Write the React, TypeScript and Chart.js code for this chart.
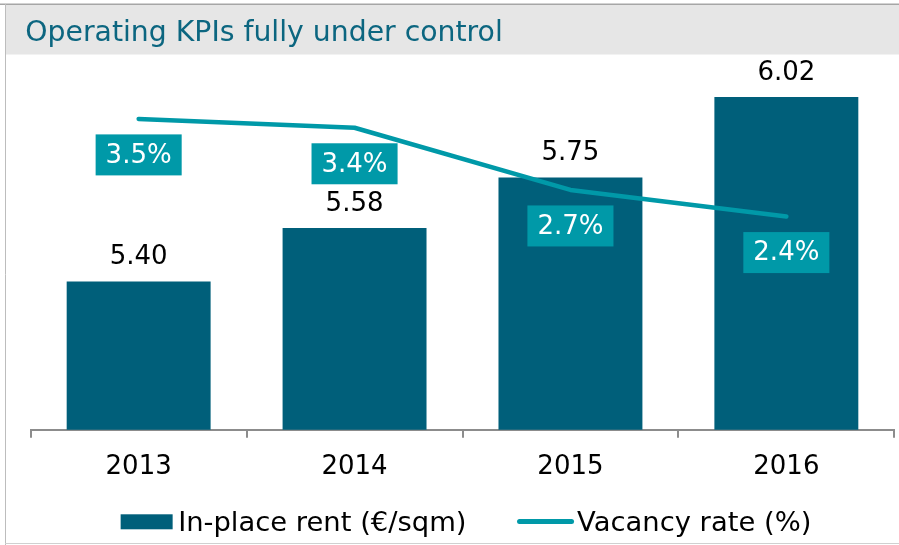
import React, { useEffect, useRef } from "react";
import { Chart, registerables } from "chart.js";

Chart.register(...registerables);

const categories = ["2013", "2014", "2015", "2016"];
const rentValues = [5.4, 5.58, 5.75, 6.02];
const vacancyValues = [3.5, 3.4, 2.7, 2.4];
const rentLabel = "In-place rent (€/sqm)";
const vacancyLabel = "Vacancy rate (%)";
const titleText = "Operating KPIs fully under control";

const FONT = "'DejaVu Sans', Verdana, sans-serif";
const BAR_COLOR = "#005f7a";
const LINE_COLOR = "#0099a8";
const TITLE_COLOR = "#0c6680";

const framePlugin = {
  id: "frame",
  beforeDraw(chart: any) {
    const { ctx, width, height } = chart;
    ctx.save();
    ctx.fillStyle = "#ffffff";
    ctx.fillRect(0, 0, width, height);
    ctx.fillStyle = "#e6e6e6";
    ctx.fillRect(6, 5, width - 6, 49.5);
    ctx.strokeStyle = "#a6a6a6";
    ctx.lineWidth = 1.5;
    ctx.beginPath();
    ctx.moveTo(0, 4.3);
    ctx.lineTo(width, 4.3);
    ctx.stroke();
    ctx.strokeStyle = "#bdbdbd";
    ctx.lineWidth = 1;
    ctx.beginPath();
    ctx.moveTo(5.5, 4);
    ctx.lineTo(5.5, height);
    ctx.stroke();
    ctx.strokeStyle = "#d0d0d0";
    ctx.beginPath();
    ctx.moveTo(5, 543.5);
    ctx.lineTo(width, 543.5);
    ctx.stroke();
    ctx.fillStyle = TITLE_COLOR;
    ctx.font = `28.3px ${FONT}`;
    ctx.textAlign = "left";
    ctx.textBaseline = "alphabetic";
    ctx.fillText(titleText, 25.3, 40.5);
    ctx.restore();
  },
};

const labelsPlugin = {
  id: "valueLabels",
  afterDatasetsDraw(chart: any) {
    const { ctx } = chart;
    ctx.save();
    const barMeta = chart.getDatasetMeta(1);
    ctx.font = `26px ${FONT}`;
    ctx.fillStyle = "#000000";
    ctx.textAlign = "center";
    ctx.textBaseline = "alphabetic";
    barMeta.data.forEach((el: any, i: number) => {
      ctx.fillText(rentValues[i].toFixed(2), el.x, el.y - 17.5);
    });
    const lineMeta = chart.getDatasetMeta(0);
    lineMeta.data.forEach((el: any, i: number) => {
      const txt = vacancyValues[i].toFixed(1) + "%";
      ctx.font = `26px ${FONT}`;
      const w = ctx.measureText(txt).width + 20;
      const h = 41;
      const cx = el.x;
      const cy = el.y + 36;
      ctx.fillStyle = LINE_COLOR;
      ctx.fillRect(cx - w / 2, cy - h / 2, w, h);
      ctx.fillStyle = "#ffffff";
      ctx.textAlign = "center";
      ctx.textBaseline = "middle";
      ctx.fillText(txt, cx, cy + 1);
    });
    ctx.restore();
  },
  afterDraw(chart: any) {
    const { ctx } = chart;
    ctx.save();
    ctx.font = `27.4px ${FONT}`;
    const t1 = chart.data.datasets[1].label;
    const t2 = chart.data.datasets[0].label;
    const w1 = ctx.measureText(t1).width;
    const w2 = ctx.measureText(t2).width;
    const total = 52 + 5.5 + w1 + 51 + 56 + 3.5 + w2;
    let x = 466 - total / 2;
    const baseline = 530.5;
    ctx.fillStyle = chart.data.datasets[1].backgroundColor;
    ctx.fillRect(x, 514.3, 52, 15);
    x += 52 + 5.5;
    ctx.fillStyle = "#000000";
    ctx.textAlign = "left";
    ctx.textBaseline = "alphabetic";
    ctx.fillText(t1, x, baseline);
    x += w1 + 51;
    ctx.strokeStyle = chart.data.datasets[0].borderColor;
    ctx.lineWidth = 5;
    ctx.lineCap = "round";
    ctx.beginPath();
    ctx.moveTo(x + 2, 521.5);
    ctx.lineTo(x + 54, 521.5);
    ctx.stroke();
    x += 56 + 3.5;
    ctx.fillText(t2, x, baseline);
    ctx.restore();
  },
};

export default function App() {
  const canvasRef = useRef<HTMLCanvasElement | null>(null);

  useEffect(() => {
    if (!canvasRef.current) return;
    Chart.defaults.font.family = FONT;
    const chart = new Chart(canvasRef.current, {
      type: "bar",
      data: {
        labels: categories,
        datasets: [
          {
            type: "line",
            label: vacancyLabel,
            data: vacancyValues,
            yAxisID: "y2",
            borderColor: LINE_COLOR,
            backgroundColor: LINE_COLOR,
            borderWidth: 4.5,
            borderCapStyle: "round",
            borderJoinStyle: "round",
            pointRadius: 0,
            tension: 0,
            order: 0,
          } as any,
          {
            type: "bar",
            label: rentLabel,
            data: rentValues,
            yAxisID: "y",
            backgroundColor: BAR_COLOR,
            categoryPercentage: 1,
            barPercentage: 2 / 3,
            order: 1,
          } as any,
        ],
      },
      options: {
        animation: false,
        responsive: false,
        layout: {
          padding: { left: 30.7, right: 4.7, top: 74.5, bottom: 48.1 },
        },
        plugins: {
          legend: { display: false },
          tooltip: { enabled: false },
          title: { display: false },
        },
        scales: {
          x: {
            type: "category",
            offset: true,
            grid: {
              offset: true,
              drawOnChartArea: false,
              drawTicks: true,
              tickLength: 8,
              color: "#8c8c8c",
              lineWidth: 2,
            },
            border: { display: true, color: "#8c8c8c", width: 2 },
            ticks: {
              color: "#000000",
              font: { family: FONT, size: 26 },
              padding: 14,
              maxRotation: 0,
            },
          },
          y: { display: false, min: 4.902, max: 6.096 },
          y2: { display: false, min: 0, max: 4 },
        },
      },
      plugins: [framePlugin, labelsPlugin],
    });
    return () => chart.destroy();
  }, []);

  return (
    <div style={{ position: "fixed", left: 0, top: 0, width: 899, height: 545 }}>
      <canvas ref={canvasRef} width={899} height={545} style={{ width: 899, height: 545 }} />
    </div>
  );
}
